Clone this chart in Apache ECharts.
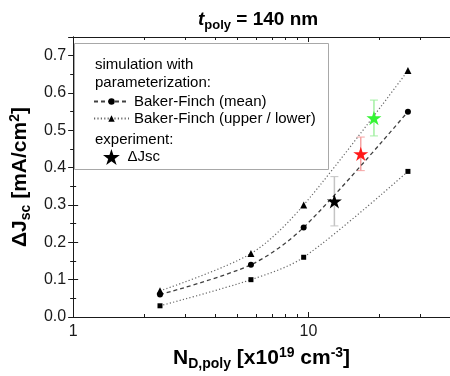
<!DOCTYPE html>
<html>
<head>
<meta charset="utf-8">
<script src="https://cdn.jsdelivr.net/npm/echarts@6/dist/echarts.min.js"></script>
<style>
  html, body { margin: 0; padding: 0; background: #fff; }
  #chart { width: 450px; height: 376px; }
</style>
</head>
<body>
<div id="chart"></div>
<script>
  // N_D,poly in units of 1e19 cm^-3
  const ndPoly = [2.34, 5.7, 9.55, 26.5];
  const jscMean = [0.06, 0.14, 0.24, 0.55];
  const jscUpper = [0.07, 0.17, 0.30, 0.66];
  const jscLower = [0.03, 0.10, 0.16, 0.39];

  // experiment (stars with error bars)
  const expNd = [12.9, 16.7, 19.0];
  const expJsc = [0.31, 0.437, 0.533];
  const expErr = [0.066, 0.045, 0.048];
  const expColors = ['#000000', '#ff1a1a', '#33f533'];
  const errColors = ['#c4c4c4', '#f5a3a3', '#a3f0a3'];

  // axis ticks
  const xMajor = [1, 10];
  const xMinor = [2, 3, 4, 5, 6, 7, 8, 9, 20, 30, 40];
  const yLabels = [0, 0.1, 0.2, 0.3, 0.4, 0.5, 0.6, 0.7];

  const FONT = "'Liberation Sans', Arial, sans-serif";
  const lg = Math.log10;
  const X_MAX = lg(40);
  const STAR = 'path://M50,0 L61.2,34.5 L97.6,34.5 L68.2,55.9 L79.4,90.5 L50,69.1 L20.6,90.5 L31.8,55.9 L2.4,34.5 L38.8,34.5 Z';

  const chart = echarts.init(document.getElementById('chart'));

  function xAxisDef(pos, ticks, len, withLabels, withLine) {
    return {
      type: 'value', position: pos, min: 0, max: X_MAX,
      axisLine: { show: withLine, lineStyle: { color: '#1a1a1a', width: 1 } },
      axisTick: { show: true, inside: true, length: len, customValues: ticks.map(lg),
        lineStyle: { color: '#1a1a1a' } },
      axisLabel: withLabels ? {
        show: true, customValues: xMajor.map(lg), margin: 7,
        fontSize: 16, fontFamily: FONT, color: '#1a1a1a',
        formatter: v => String(Math.round(Math.pow(10, v)))
      } : { show: false },
      splitLine: { show: false }
    };
  }

  function yAxisDef(pos, withLabels) {
    return {
      type: 'value', position: pos, min: 0, max: 0.75, interval: 0.1,
      axisLine: { show: true, lineStyle: { color: '#1a1a1a', width: 1 } },
      axisTick: { show: true, inside: true, length: 5, lineStyle: { color: '#1a1a1a' } },
      minorTick: { show: true, splitNumber: 2, length: 3, lineStyle: { color: '#1a1a1a' } },
      axisLabel: withLabels ? {
        show: true, customValues: yLabels, margin: 7,
        fontSize: 16, fontFamily: FONT, color: '#1a1a1a',
        formatter: v => v.toFixed(1)
      } : { show: false },
      splitLine: { show: false }
    };
  }

  const nameRich = {
    b: { fontSize: 21, fontWeight: 'bold', fontFamily: FONT, color: '#000' },
    sub: { fontSize: 14, fontWeight: 'bold', fontFamily: FONT, color: '#000', padding: [12, 0, 0, 0] },
    sup: { fontSize: 14, fontWeight: 'bold', fontFamily: FONT, color: '#000', padding: [0, 0, 10, 0] }
  };

  const bottomMajor = xAxisDef('bottom', xMajor, 5, true, true);
  bottomMajor.name = '{b|N}{sub|D,poly}{b| [x10}{sup|19}{b| cm}{sup|-3}{b|]}';
  bottomMajor.nameLocation = 'middle';
  bottomMajor.nameGap = 28;
  bottomMajor.nameTextStyle = { rich: nameRich };

  const leftAxis = yAxisDef('left', true);
  leftAxis.name = '{b|ΔJ}{sub|sc}{b| [mA/cm}{sup|2}{b|]}';
  leftAxis.nameLocation = 'middle';
  leftAxis.nameRotate = 90;
  leftAxis.nameGap = 37;
  leftAxis.nameTextStyle = { rich: nameRich };

  const errorData = expNd.map((x, i) => [lg(x), expJsc[i], expErr[i]]);

  chart.setOption({
    animation: false,
    backgroundColor: '#fff',
    title: {
      text: '{t|t}{s|poly}{m| = 140 nm}',
      left: 193, top: 2,
      textStyle: {
        rich: {
          t: { fontSize: 19, fontWeight: 'bold', fontStyle: 'italic', fontFamily: FONT, color: '#000' },
          s: { fontSize: 13, fontWeight: 'bold', fontFamily: FONT, color: '#000', padding: [12, 0, 0, 0] },
          m: { fontSize: 19, fontWeight: 'bold', fontFamily: FONT, color: '#000' }
        }
      }
    },
    grid: { left: 72, right: 0, top: 37, bottom: 59, containLabel: false },
    xAxis: [
      bottomMajor,
      xAxisDef('bottom', xMinor, 3, false, false),
      xAxisDef('top', xMajor, 5, false, true),
      xAxisDef('top', xMinor, 3, false, false)
    ],
    yAxis: [leftAxis, yAxisDef('right', false)],
    graphic: [
      {
        type: 'rect', left: 74, top: 43, z: 1,
        shape: { width: 254, height: 126 },
        style: { fill: '#fff', stroke: '#a8a8a8', lineWidth: 1 }
      },
      { type: 'text', left: 95, top: 57, z: 2, style: { text: 'simulation with', font: '15px ' + FONT, fill: '#000' } },
      { type: 'text', left: 95, top: 75, z: 2, style: { text: 'parameterization:', font: '15px ' + FONT, fill: '#000' } },
      { type: 'text', left: 95, top: 132, z: 2, style: { text: 'experiment:', font: '15px ' + FONT, fill: '#000' } }
    ],
    legend: [
      {
        orient: 'vertical', left: 93, top: 94, z: 3, padding: 0,
        itemWidth: 35, itemHeight: 8, itemGap: 2,
        textStyle: { fontSize: 15, fontFamily: FONT, color: '#000' },
        data: ['Baker-Finch (mean)', 'Baker-Finch (upper / lower)']
      },
      {
        orient: 'vertical', left: 103, top: 149, z: 3, padding: 0,
        itemWidth: 22, itemHeight: 16,
        textStyle: { fontSize: 15, fontFamily: FONT, color: '#000' },
        data: ['ΔJsc']
      }
    ],
    series: [
      {
        name: 'Baker-Finch (mean)', type: 'line', smooth: 0.3,
        data: ndPoly.map((x, i) => [lg(x), jscMean[i]]),
        symbol: 'circle', symbolSize: 6,
        itemStyle: { color: '#000' },
        lineStyle: { color: '#404040', width: 1.3, type: [4, 3] }
      },
      {
        name: 'Baker-Finch (upper / lower)', type: 'line', smooth: 0.3,
        data: ndPoly.map((x, i) => [lg(x), jscUpper[i]]),
        symbol: 'triangle', symbolSize: 7,
        itemStyle: { color: '#000' },
        lineStyle: { color: '#666', width: 1.2, type: [1.2, 2.2] }
      },
      {
        name: 'Baker-Finch (upper / lower)', type: 'line', smooth: 0.3,
        data: ndPoly.map((x, i) => [lg(x), jscLower[i]]),
        symbol: 'rect', symbolSize: 5,
        itemStyle: { color: '#000' },
        lineStyle: { color: '#666', width: 1.2, type: [1.2, 2.2] }
      },
      {
        name: 'error', type: 'custom', z: 3,
        data: errorData,
        renderItem: function (params, api) {
          const x = api.value(0), y = api.value(1), e = api.value(2);
          const top = api.coord([x, y + e]);
          const bot = api.coord([x, y - e]);
          const c = errColors[params.dataIndex];
          const w = 4;
          return {
            type: 'group',
            children: [
              { type: 'line', shape: { x1: top[0], y1: top[1], x2: bot[0], y2: bot[1] }, style: { stroke: c, lineWidth: 1.5 } },
              { type: 'line', shape: { x1: top[0] - w, y1: top[1], x2: top[0] + w, y2: top[1] }, style: { stroke: c, lineWidth: 1 } },
              { type: 'line', shape: { x1: bot[0] - w, y1: bot[1], x2: bot[0] + w, y2: bot[1] }, style: { stroke: c, lineWidth: 1 } }
            ]
          };
        }
      },
      {
        name: 'ΔJsc', type: 'scatter', z: 4,
        symbol: STAR, symbolSize: 15, symbolKeepAspect: true,
        itemStyle: { color: '#000', opacity: 1 },
        data: expNd.map((x, i) => ({ value: [lg(x), expJsc[i]], itemStyle: { color: expColors[i], opacity: 1 } }))
      }
    ]
  });
</script>
</body>
</html>
